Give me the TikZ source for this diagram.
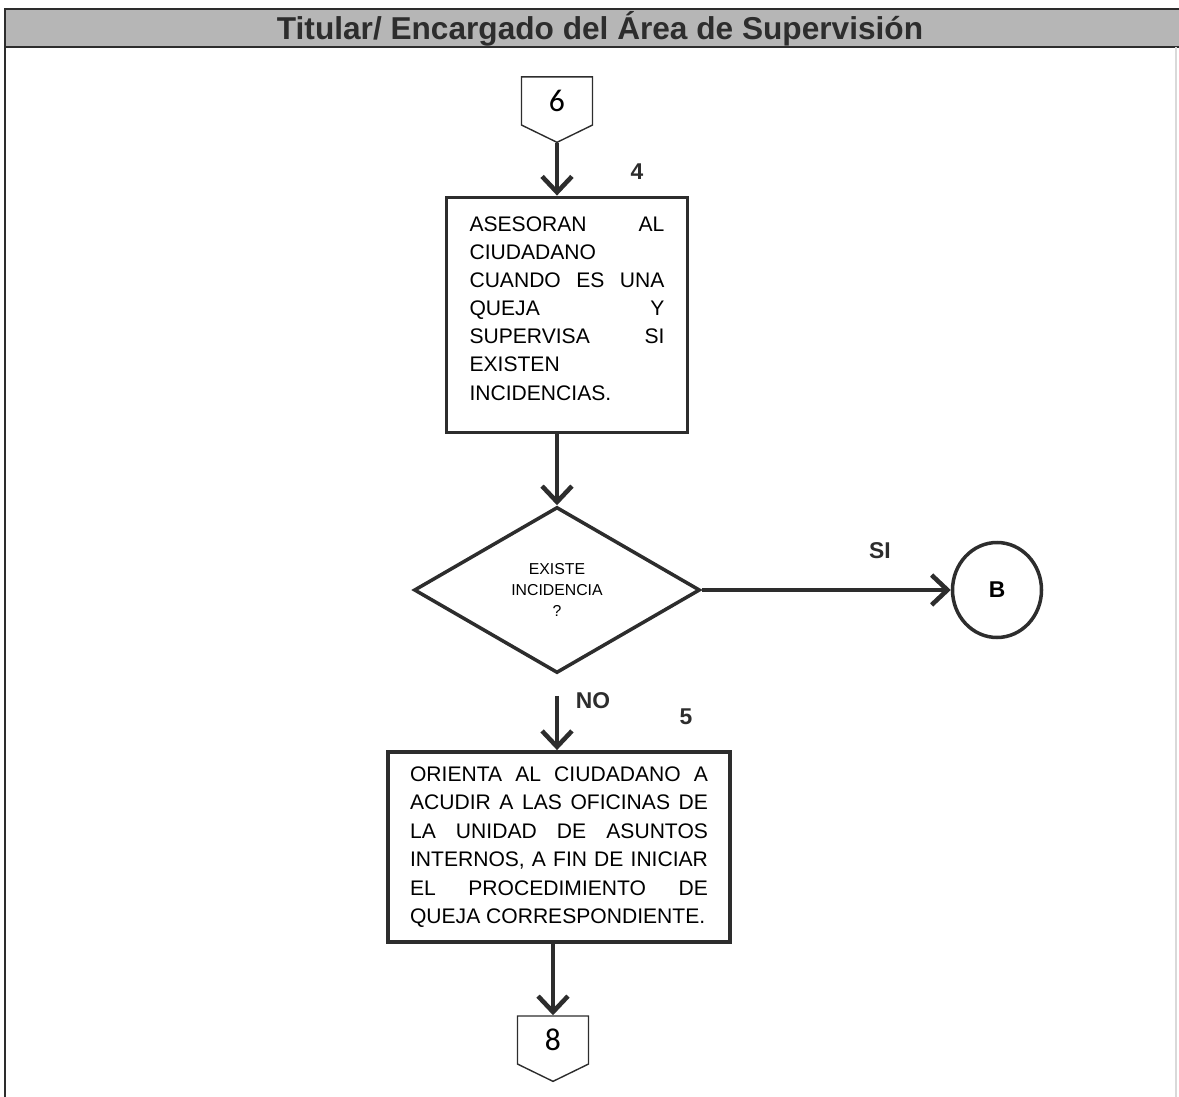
\documentclass[tikz,border=0pt]{standalone}
\usepackage{fontspec}
\setmainfont{Liberation Sans}
\newfontfamily\calfont{Carlito}
\usetikzlibrary{shapes.geometric,shapes.symbols,arrows.meta}

\definecolor{band}{RGB}{182,182,182}
\definecolor{ink} {RGB}{45,45,45}

\begin{document}
\begin{tikzpicture}[x=0.02cm,y=-0.02cm,
    proc/.style={draw=ink,line width=2.2pt,align=justify,inner sep=0pt},
    offpage/.style={draw=ink,line width=0.8pt,shape=signal,signal to=south,signal from=nowhere,
      signal pointer angle=128,minimum width=1.42cm,minimum height=1.04cm,inner sep=0pt,
      font=\calfont\fontsize{18}{18}\selectfont},
    flow/.style={draw=ink,line width=2.6pt,-{Straight Barb[length=9pt,width=17pt]}},
    lbl/.style={text=ink,font=\bfseries\fontsize{13}{13}\selectfont}]

    \useasboundingbox (0,0) rectangle (1179,1097);

    % lane header
    \fill[band] (5,9) rectangle (1179,47);
    \draw[ink,line width=1.2pt] (1179,9) -- (5,9) -- (5,1097);
    \draw[ink,line width=1.2pt] (5,47) -- (1179,47);
    \draw[black!15,line width=0.6pt] (1176,47) -- (1176,1097);
    \node[text=ink] (title) at (600,29) {\bfseries\fontsize{18}{18}\selectfont Titular/ Encargado del Área de Supervisión};

    \node[offpage] (c6) at (557,101) {6};

    \node[proc,minimum width=4.82cm,minimum height=4.7cm,text width=3.9cm,
      font=\fontsize{12}{16}\selectfont] (asesoran) at (567,315)
      {ASESORAN AL\linebreak CIUDADANO\newline CUANDO ES UNA\linebreak QUEJA Y\linebreak
       SUPERVISA SI\linebreak EXISTEN\newline INCIDENCIAS.\par\vspace{-8.5pt}\mbox{}};
    \node[lbl] (n4) at (637,172) {4};

    \node[draw=ink,line width=2pt,shape=diamond,minimum width=5.72cm,minimum height=3.32cm,
      inner sep=0pt,align=center,font=\fontsize{9}{12}\selectfont] (dia) at (557,590)
      {EXISTE\\INCIDENCIA\\?};

    \node[draw=ink,line width=2pt,shape=ellipse,minimum width=1.78cm,minimum height=1.9cm,
      font=\bfseries\fontsize{13}{13}\selectfont] (B) at (997,590) {B};
    \node[lbl] (si) at (880,551) {SI};

    \node[lbl] (no) at (593,701) {NO};
    \node[lbl] (n5) at (686,717) {5};

    \node[proc,minimum width=6.84cm,minimum height=3.8cm,text width=5.96cm,
      font=\fontsize{12}{16.2}\selectfont] (orienta) at (559,847)
      {ORIENTA AL CIUDADANO A\linebreak ACUDIR A LAS OFICINAS DE\linebreak
       LA UNIDAD DE ASUNTOS\linebreak INTERNOS, A FIN DE INICIAR\linebreak
       EL PROCEDIMIENTO DE\linebreak QUEJA CORRESPONDIENTE.};

    \node[offpage] (c8) at (553,1040) {8};

    \draw[flow] (c6.south) -- (c6.south |- asesoran.north);
    \draw[flow] (dia.north |- asesoran.south) -- (dia.north);
    \draw[flow] (dia.east) -- (B.west);
    \draw[flow,shorten <=12pt] (dia.south) -- (dia.south |- orienta.north);
    \draw[flow] (c8.north |- orienta.south) -- (c8.north);

\end{tikzpicture}
\end{document}
